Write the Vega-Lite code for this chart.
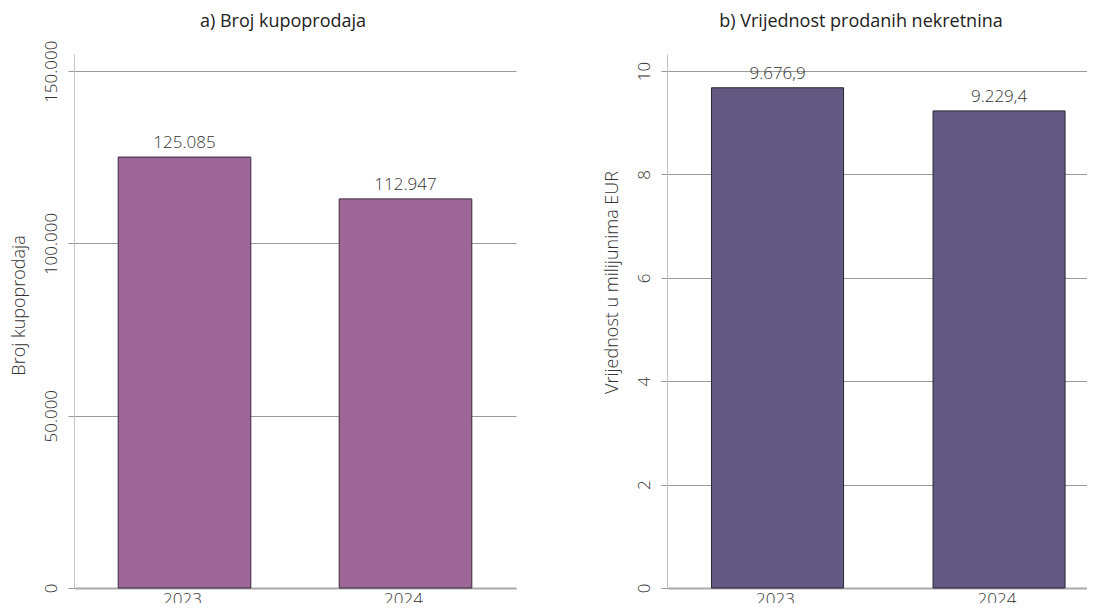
{
  "$schema": "https://vega.github.io/schema/vega-lite/v6.json",
  "background": "white",
  "padding": {"left": 10, "top": 13, "right": 0, "bottom": -4},
  "spacing": 86,
  "config": {
    "locale": {"number": {"decimal": ",", "thousands": ".", "grouping": [3], "currency": ["", " €"]}},
    "font": "Open Sans",
    "view": {"stroke": null},
    "title": {"fontSize": 18, "fontWeight": 500, "color": "#222", "font": "Open Sans"},
    "axis": {"labelFont": "Open Sans", "titleFont": "Open Sans", "labelFontSize": 17, "titleFontSize": 18, "labelColor": "#333", "titleColor": "#333", "titleFontWeight": 300, "labelFontWeight": 300}
  },
  "hconcat": [
    {
      "title": {"text": "a) Broj kupoprodaja", "offset": 9, "dx": -12},
      "width": 442,
      "height": 534,
      "data": {"values": [{"godina": "2023.", "broj": 125085}, {"godina": "2024.", "broj": 112947}]},
      "encoding": {
        "x": {"field": "godina", "type": "nominal", "scale": {"paddingInner": 0.4, "paddingOuter": 0.2},
          "axis": {"title": null, "labelAngle": 0, "ticks": false, "labelPadding": 3, "domainColor": "#aaa", "domainWidth": 2}},
        "y": {"field": "broj", "type": "quantitative", "scale": {"domain": [0, 155000], "nice": false},
          "axis": {"title": "Broj kupoprodaja", "titleY": 251, "values": [0, 50000, 100000, 150000], "format": ",d", "labelAngle": -90, "labelAlign": "center", "labelBaseline": "bottom", "labelPadding": 8, "titlePadding": 14, "tickSize": 6, "tickColor": "#999", "gridColor": "#999", "domainColor": "#c4c4c4"}}
      },
      "layer": [
        {"mark": {"type": "bar", "color": "#9e6799", "stroke": "#3a2b38", "strokeWidth": 1}},
        {"mark": {"type": "text", "dy": -14, "fontSize": 17, "fontWeight": 300, "color": "#333"}, "encoding": {"text": {"field": "broj", "type": "quantitative", "format": ",d"}}}
      ]
    },
    {
      "title": {"text": "b) Vrijednost prodanih nekretnina", "offset": 23, "dx": -16},
      "width": 420,
      "height": 534,
      "data": {"values": [{"godina": "2023.", "vrijednost": 9676.9}, {"godina": "2024.", "vrijednost": 9229.4}]},
      "encoding": {
        "x": {"field": "godina", "type": "nominal", "scale": {"paddingInner": 0.404, "paddingOuter": 0.15, "align": 0.67},
          "axis": {"title": null, "labelAngle": 0, "ticks": false, "labelPadding": 3, "domainColor": "#aaa", "domainWidth": 2}},
        "y": {"field": "vrijednost", "type": "quantitative", "scale": {"domain": [0, 10330], "nice": false},
          "axis": {"title": "Vrijednost u milijunima EUR", "titleY": 228, "values": [0, 2000, 4000, 6000, 8000, 10000], "labelExpr": "format(datum.value/1000, 'd')", "labelAngle": -90, "labelAlign": "center", "labelBaseline": "bottom", "labelPadding": 8, "titlePadding": 14, "tickSize": 6, "tickColor": "#999", "gridColor": "#999", "domainColor": "#c4c4c4"}}
      },
      "layer": [
        {"mark": {"type": "bar", "color": "#635983", "stroke": "#2a2633", "strokeWidth": 1}},
        {"mark": {"type": "text", "dy": -14, "fontSize": 17, "fontWeight": 300, "color": "#333"}, "encoding": {"text": {"field": "vrijednost", "type": "quantitative", "format": ",.1f"}}}
      ]
    }
  ]
}
